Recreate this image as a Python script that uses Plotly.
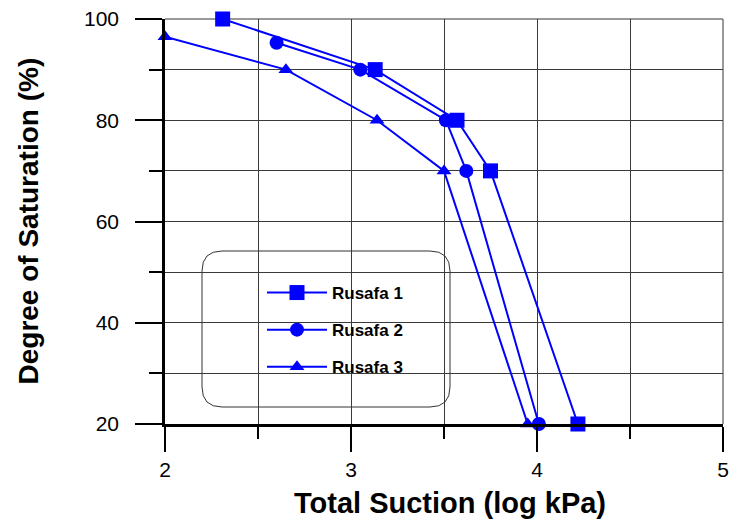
import plotly.graph_objects as go

# ---- data ----
names = ["Rusafa 1", "Rusafa 2", "Rusafa 3"]
x_r1 = [2.31, 3.13, 3.57, 3.75, 4.22]
y_r1 = [100, 90, 80, 70, 20]
x_r2 = [2.60, 3.05, 3.51, 3.62, 4.01]
y_r2 = [95.3, 90, 80, 70, 20]
x_r3 = [2.00, 2.65, 3.14, 3.50, 3.95]
y_r3 = [96.5, 90, 80, 70, 20]
x_ticks = [2, 3, 4, 5]
y_ticks = [20, 40, 60, 80, 100]

BLUE = "#0000FF"
FONT = "Liberation Sans, Arial, sans-serif"

series = [
    (names[0], x_r1, y_r1, "square", 15),
    (names[1], x_r2, y_r2, "circle", 14),
    (names[2], x_r3, y_r3, "triangle-up", 13),
]

fig = go.Figure()
for i, (nm, xs, ys, sym, sz) in enumerate(series):
    fig.add_trace(go.Scatter(
        x=xs, y=ys, name=nm, mode="lines+markers",
        line=dict(color=BLUE, width=2),
        marker=dict(symbol=sym, size=sz, color=BLUE),
        legendgroup=f"g{i}", cliponaxis=False,
    ))

W, H = 732, 523
ml, mr, mt, mb = 165, 9, 19, 99
pw, ph = W - ml - mr, H - mt - mb

# rounded legend box (paper coords)
bx0, bx1 = (202 - ml) / pw, (450 - ml) / pw
by1, by0 = (H - mb - 251) / ph, (H - mb - 407) / ph
rx, ry = 20 / pw, 20 / ph
path = (f"M{bx0+rx},{by1} L{bx1-rx},{by1} Q{bx1},{by1} {bx1},{by1-ry} "
        f"L{bx1},{by0+ry} Q{bx1},{by0} {bx1-rx},{by0} L{bx0+rx},{by0} "
        f"Q{bx0},{by0} {bx0},{by0+ry} L{bx0},{by1-ry} Q{bx0},{by1} {bx0+rx},{by1} Z")
fig.add_shape(type="path", path=path, xref="paper", yref="paper",
              fillcolor="white", line=dict(color="#333333", width=1), layer="between")

grid = "#3a3a3a"
# top and right frame lines (grey, like the grid)
fig.add_shape(type="line", xref="paper", yref="paper", x0=0, x1=1, y0=1, y1=1,
              line=dict(color="#777777", width=1.5), layer="below")
fig.add_shape(type="line", xref="paper", yref="paper", x0=1, x1=1, y0=0, y1=1,
              line=dict(color="#777777", width=1.5), layer="below")

fig.update_xaxes(
    range=[2, 5], tickvals=x_ticks, showline=True, linecolor="black", linewidth=2.5,
    ticks="outside", ticklen=25, tickwidth=2, tickcolor="black",
    showgrid=True, gridcolor=grid, gridwidth=1, zeroline=False, automargin=False,
    tickfont=dict(family=FONT, size=21, color="black"), ticklabeloverflow="allow",
    minor=dict(dtick=0.5, tick0=2, ticks="outside", ticklen=12, tickwidth=2,
               tickcolor="black", showgrid=True, gridcolor=grid, gridwidth=1),
)
fig.update_yaxes(
    range=[20, 100], tickvals=y_ticks, showline=True, linecolor="black", linewidth=2.5,
    ticks="outside", ticklen=27, tickwidth=2, tickcolor="black",
    showgrid=True, gridcolor=grid, gridwidth=1, zeroline=False, automargin=False,
    tickfont=dict(family=FONT, size=21, color="black"), ticklabelstandoff=12,
    minor=dict(dtick=10, tick0=20, ticks="outside", ticklen=13, tickwidth=2,
               tickcolor="black", showgrid=True, gridcolor=grid, gridwidth=1),
)

fig.add_annotation(text="<b>Total Suction (log kPa)</b>", xref="paper", yref="paper",
                   x=(450 - ml) / pw, y=-(503 - (H - mb)) / ph, xanchor="center",
                   yanchor="middle", showarrow=False,
                   font=dict(family=FONT, size=29, color="black"))
fig.add_annotation(text="<b>Degree of Saturation (%)</b>", xref="paper", yref="paper",
                   x=-(ml - 28) / pw, y=0.5, xanchor="center", yanchor="middle",
                   textangle=-90, showarrow=False,
                   font=dict(family=FONT, size=28, color="black"))

fig.update_layout(
    width=W, height=H, margin=dict(l=ml, r=mr, t=mt, b=mb, autoexpand=False),
    paper_bgcolor="white", plot_bgcolor="white",
    showlegend=True,
    legend=dict(x=(262 - ml) / pw, y=(H - mb - 275) / ph, xanchor="left", yanchor="top",
                bgcolor="rgba(0,0,0,0)", borderwidth=0, tracegroupgap=12,
                itemwidth=60,
                font=dict(family=FONT, size=17, color="black", weight="bold")),
)

fig.write_html("out.html")
